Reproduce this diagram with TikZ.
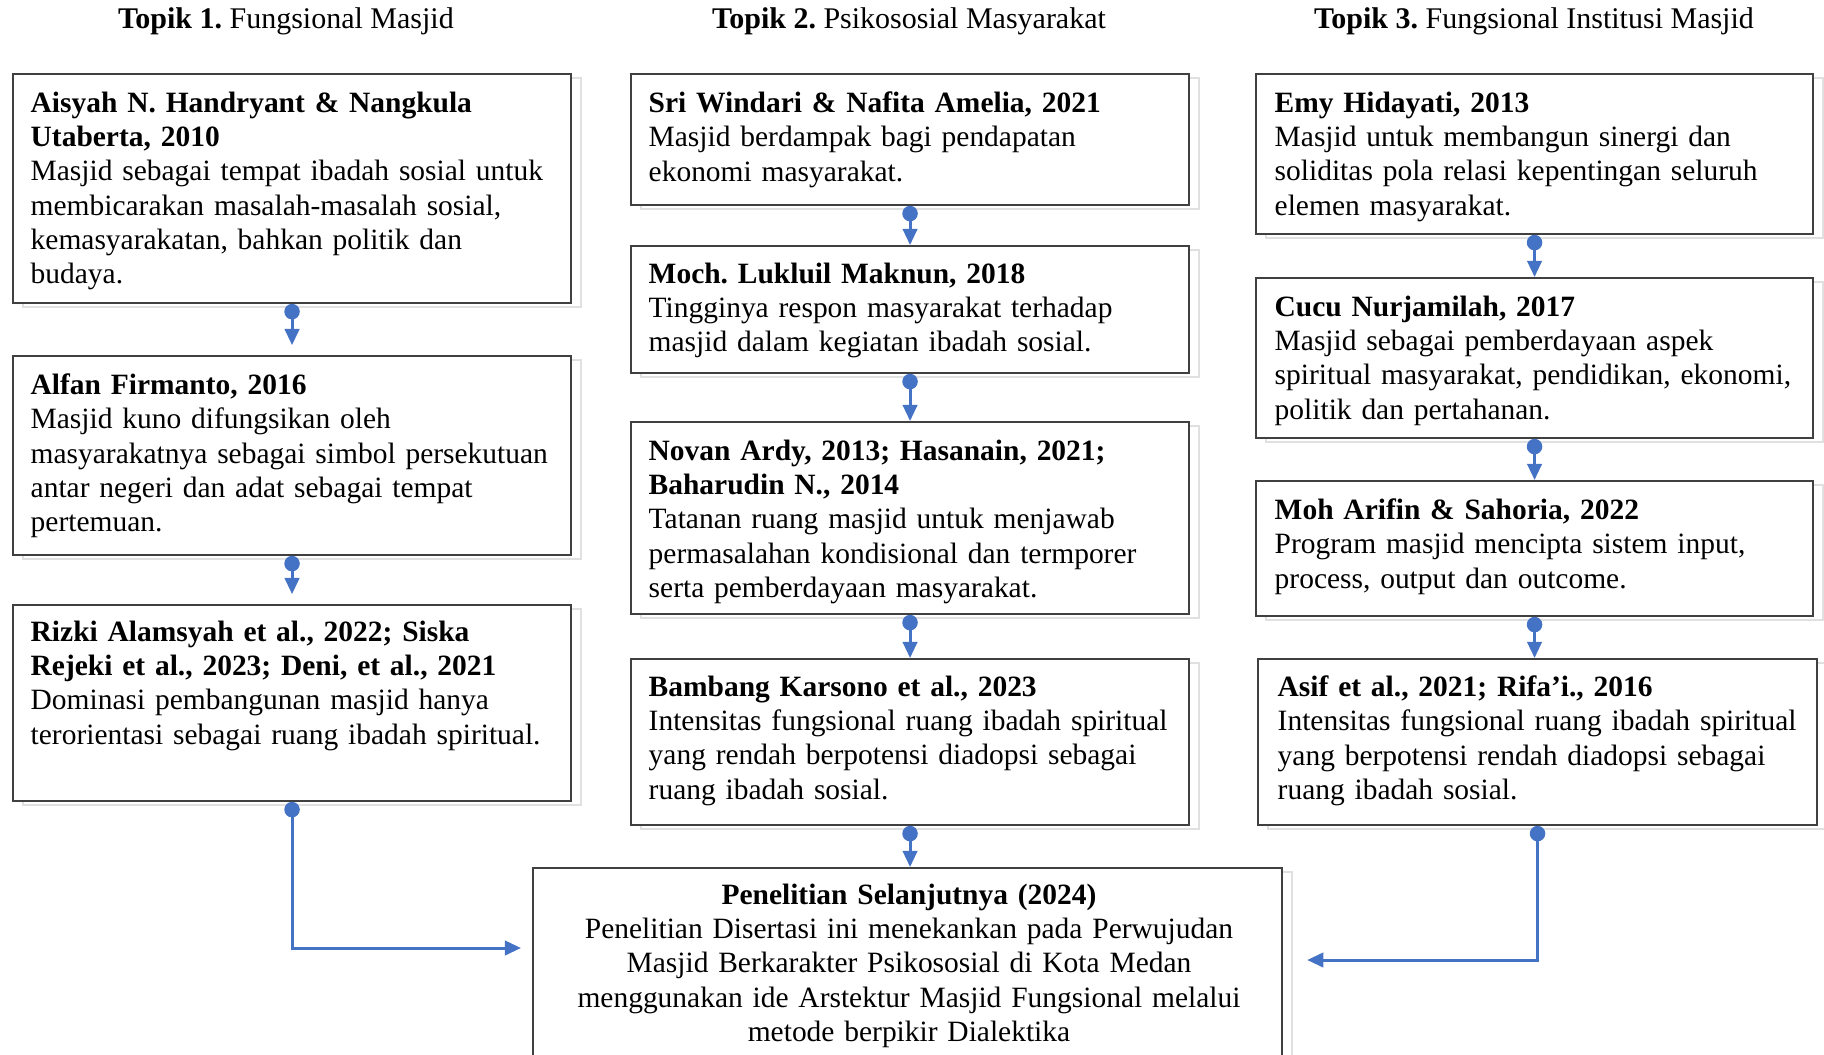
\documentclass[tikz,border=0pt]{standalone}
\usepackage{fontspec}
\setmainfont{Liberation Serif}
\usetikzlibrary{arrows.meta,shadows,calc}
\definecolor{linkblue}{HTML}{4472C4}
\frenchspacing

\begin{document}
\begin{tikzpicture}[x=0.01cm,y=-0.01cm,
		box_style/.style={draw=black!75,line width=0.5pt,fill=white,inner sep=0pt,anchor=north west,
			general shadow={draw=black!12,fill=none,line width=0.6pt,shadow xshift=2.8pt,shadow yshift=-1.1pt}},
		text_style/.style={anchor=north west,inner sep=0pt,text width=5.6cm,align=left,font=\fontsize{8.38}{9.75}\selectfont},
		head_style/.style={inner sep=0pt,font=\fontsize{8.53}{9.75}\selectfont},
		link_style/.style={draw=linkblue,line width=0.85pt,{Circle[length=4.4pt]}-{Triangle[length=4.6pt,width=4.1pt]}}]

		\useasboundingbox (0,0) rectangle (1824,1054);

		\node[head_style] (h1) at (286,21) {\textbf{Topik 1.} Fungsional Masjid};
		\node[head_style] (h2) at (909,21) {\textbf{Topik 2.} Psikososial Masyarakat};
		\node[head_style] (h3) at (1534,21) {\textbf{Topik 3.} Fungsional Institusi Masjid};

		\node[box_style,minimum width=5.58cm,minimum height=2.29cm] (a1) at (12,73) {};
		\node[box_style,minimum width=5.58cm,minimum height=1.99cm] (a2) at (12,355) {};
		\node[box_style,minimum width=5.58cm,minimum height=1.96cm] (a3) at (12,604) {};

		\node[box_style,minimum width=5.58cm,minimum height=1.31cm] (b1) at (630,73) {};
		\node[box_style,minimum width=5.58cm,minimum height=1.27cm] (b2) at (630,245) {};
		\node[box_style,minimum width=5.58cm,minimum height=1.92cm] (b3) at (630,421) {};
		\node[box_style,minimum width=5.58cm,minimum height=1.66cm] (b4) at (630,658) {};

		\node[box_style,minimum width=5.57cm,minimum height=1.60cm] (c1) at (1255,73) {};
		\node[box_style,minimum width=5.57cm,minimum height=1.60cm] (c2) at (1255,277) {};
		\node[box_style,minimum width=5.57cm,minimum height=1.35cm] (c3) at (1255,480) {};
		\node[box_style,minimum width=5.59cm,minimum height=1.66cm] (c4) at (1257,658) {};

		\node[box_style,minimum width=7.49cm,minimum height=2.30cm] (res) at (532,867) {};

		\node[text_style] (a1t) at (30,91) {\textbf{Aisyah N. Handryant \& Nangkula}\\\textbf{Utaberta, 2010}\\
			Masjid sebagai tempat ibadah sosial untuk\\membicarakan masalah-masalah sosial,\\kemasyarakatan, bahkan politik dan\\budaya.};
		\node[text_style] (a2t) at (30,373) {\textbf{Alfan Firmanto, 2016}\\
			Masjid kuno difungsikan oleh\\masyarakatnya sebagai simbol persekutuan\\antar negeri dan adat sebagai tempat\\pertemuan.};
		\node[text_style] (a3t) at (30,620) {\textbf{Rizki Alamsyah et al., 2022; Siska}\\\textbf{Rejeki et al., 2023; Deni, et al., 2021}\\
			Dominasi pembangunan masjid hanya\\terorientasi sebagai ruang ibadah spiritual.};

		\node[text_style] (b1t) at (648,91) {\textbf{Sri Windari \& Nafita Amelia, 2021}\\
			Masjid berdampak bagi pendapatan\\ekonomi masyarakat.};
		\node[text_style] (b2t) at (648,262) {\textbf{Moch. Lukluil Maknun, 2018}\\
			Tingginya respon masyarakat terhadap\\masjid dalam kegiatan ibadah sosial.};
		\node[text_style] (b3t) at (648,439) {\textbf{Novan Ardy, 2013; Hasanain, 2021;}\\\textbf{Baharudin N., 2014}\\
			Tatanan ruang masjid untuk menjawab\\permasalahan kondisional dan termporer\\serta pemberdayaan masyarakat.};
		\node[text_style] (b4t) at (648,675) {\textbf{Bambang Karsono et al., 2023}\\
			Intensitas fungsional ruang ibadah spiritual\\yang rendah berpotensi diadopsi sebagai\\ruang ibadah sosial.};

		\node[text_style] (c1t) at (1274,91) {\textbf{Emy Hidayati, 2013}\\
			Masjid untuk membangun sinergi dan\\soliditas pola relasi kepentingan seluruh\\elemen masyarakat.};
		\node[text_style] (c2t) at (1274,295) {\textbf{Cucu Nurjamilah, 2017}\\
			Masjid sebagai pemberdayaan aspek\\spiritual masyarakat, pendidikan, ekonomi,\\politik dan pertahanan.};
		\node[text_style] (c3t) at (1274,498) {\textbf{Moh Arifin \& Sahoria, 2022}\\
			Program masjid mencipta sistem input,\\process, output dan outcome.};
		\node[text_style] (c4t) at (1277,675) {\textbf{Asif et al., 2021; Rifa’i., 2016}\\
			Intensitas fungsional ruang ibadah spiritual\\yang berpotensi rendah diadopsi sebagai\\ruang ibadah sosial.};

		\node[text_style,anchor=north,text width=7.4cm,align=center] (rest) at (909,883) {\textbf{Penelitian Selanjutnya (2024)}\\
			Penelitian Disertasi ini menekankan pada Perwujudan\\Masjid Berkarakter Psikososial di Kota Medan\\menggunakan ide Arstektur Masjid Fungsional melalui\\metode berpikir Dialektika};

		\draw[link_style,shorten >=2.8pt] (a1.south) -- (a2.north);
		\draw[link_style,shorten >=2.8pt] (a2.south) -- (a3.north);
		\draw[link_style] (a3.south) |- ($(res.north west)+(-11,81)$);

		\draw[link_style] (b1.south) -- (b2.north);
		\draw[link_style] (b2.south) -- (b3.north);
		\draw[link_style] (b3.south) -- (b4.north);
		\draw[link_style] (b4.south) -- (b4.south |- res.north);

		\draw[link_style] (c1.south) -- (c2.north);
		\draw[link_style] (c2.south) -- (c3.north);
		\draw[link_style] (c3.south) -- (c3.south |- c4.north);
		\draw[link_style] (c4.south) |- ($(res.north east)+(24,93)$);

\end{tikzpicture}
\end{document}
